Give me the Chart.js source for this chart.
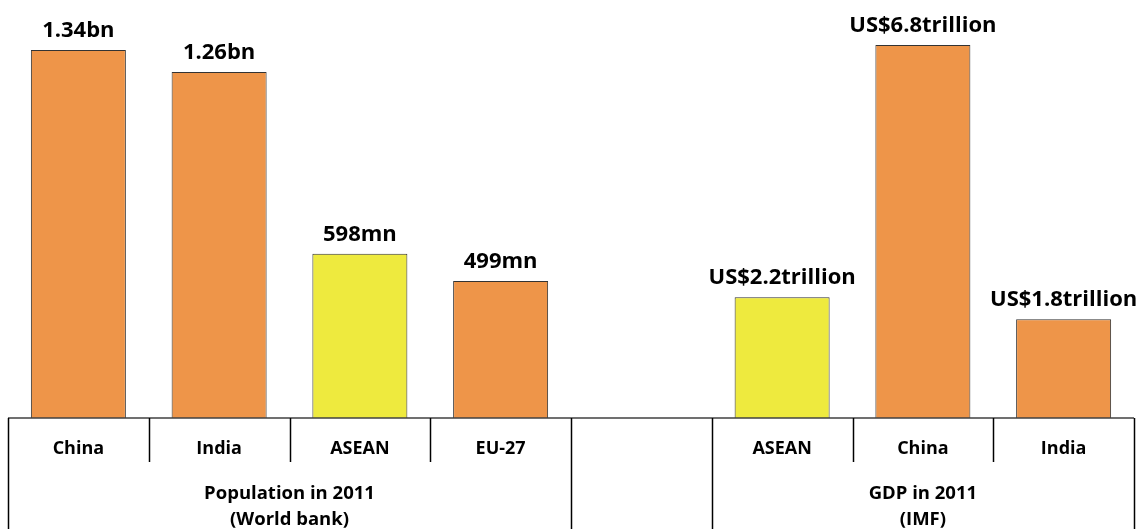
<!DOCTYPE html>
<html>
<head>
<meta charset="utf-8">
<script src="https://cdn.jsdelivr.net/npm/chart.js@4"></script>
<style>
  html, body { margin: 0; padding: 0; background: #fff; }
  #wrap { width: 1138px; height: 529px; position: relative; }
</style>
</head>
<body>
<div id="wrap"><canvas id="chart"></canvas></div>
<script>
// data
const popCategories = ['China', 'India', 'ASEAN', 'EU-27'];
const popValues = [1.34, 1.26, 0.598, 0.499];           // billions
const popLabels = ['1.34bn', '1.26bn', '598mn', '499mn'];
const gdpCategories = ['ASEAN', 'China', 'India'];
const gdpValues = [2.2, 6.8, 1.8];                       // US$ trillion
const gdpLabels = ['US$2.2trillion', 'US$6.8trillion', 'US$1.8trillion'];
const groupTitles = [['Population in 2011', '(World bank)'], ['GDP in 2011', '(IMF)']];

const ORANGE = '#EE9549';
const YELLOW = '#EEEA3E';
const FONT = '"Open Sans", "Liberation Sans", sans-serif';

// one blank slot between the two groups
const labels = popCategories.concat([''], gdpCategories);
const popData = popValues.concat(new Array(1 + gdpValues.length).fill(null));
const gdpData = new Array(popValues.length + 1).fill(null).concat(gdpValues);
const valueText = popLabels.concat([''], gdpLabels);
const colorFor = c => c === 'ASEAN' ? YELLOW : ORANGE;

const tablePlugin = {
    id: 'tablePlugin',
    afterDraw(chart) {
        const c = chart.ctx;
        const area = chart.chartArea;
        const x = chart.scales.x;
        const w = x.getPixelForValue(1) - x.getPixelForValue(0);
        const edge = i => x.getPixelForValue(i) - w / 2;
        const base = area.bottom;
        const H = chart.height;

        c.save();
        // value labels above bars
        c.fillStyle = '#000';
        c.font = 'bold 22px ' + FONT;
        c.textAlign = 'center';
        c.textBaseline = 'alphabetic';
        chart.data.datasets.forEach((ds, di) => {
            chart.getDatasetMeta(di).data.forEach((bar, i) => {
                if (ds.data[i] == null) return;
                c.fillText(valueText[i], bar.x, bar.y - 13);
            });
        });

        // axis line
        c.strokeStyle = '#404040';
        c.lineWidth = 1.5;
        c.beginPath();
        c.moveTo(edge(0), base);
        c.lineTo(edge(labels.length), base);
        c.stroke();

        // dividers
        c.strokeStyle = '#000';
        const groupEdges = [0, popCategories.length, popCategories.length + 1, labels.length];
        for (let i = 0; i <= labels.length; i++) {
            const xx = Math.round(edge(i)) + 0.5;
            const full = groupEdges.includes(i);
            c.beginPath();
            c.moveTo(xx, base);
            c.lineTo(xx, full ? H : base + 44);
            c.stroke();
        }

        // category labels
        c.font = 'bold 18px ' + FONT;
        c.textBaseline = 'middle';
        labels.forEach((l, i) => c.fillText(l, x.getPixelForValue(i), base + 31));

        // group titles
        c.font = 'bold 18.5px ' + FONT;
        const spans = [[0, popCategories.length], [popCategories.length + 1, labels.length]];
        spans.forEach((s, gi) => {
            const cx = (edge(s[0]) + edge(s[1])) / 2;
            c.fillText(groupTitles[gi][0], cx, base + 76);
            c.fillText(groupTitles[gi][1], cx, base + 102);
        });
        c.restore();
    }
};

new Chart(document.getElementById('chart'), {
    type: 'bar',
    data: {
        labels: labels,
        datasets: [
            {
                data: popData,
                yAxisID: 'yPop',
                backgroundColor: labels.map(colorFor),
                borderColor: '#333',
                borderWidth: 1,
                grouped: false,
                barPercentage: 0.675,
                categoryPercentage: 1
            },
            {
                data: gdpData,
                yAxisID: 'yGdp',
                backgroundColor: labels.map(colorFor),
                borderColor: '#333',
                borderWidth: 1,
                grouped: false,
                barPercentage: 0.675,
                categoryPercentage: 1
            }
        ]
    },
    options: {
        responsive: true,
        maintainAspectRatio: false,
        animation: false,
        layout: { padding: { left: 8, right: 4, top: 0, bottom: 111 } },
        plugins: { legend: { display: false }, tooltip: { enabled: false } },
        scales: {
            x: { display: false },
            yPop: { display: false, min: 0, max: 1.522 },
            yGdp: { display: false, min: 0, max: 7.62 }
        }
    },
    plugins: [tablePlugin]
});
</script>
</body>
</html>
